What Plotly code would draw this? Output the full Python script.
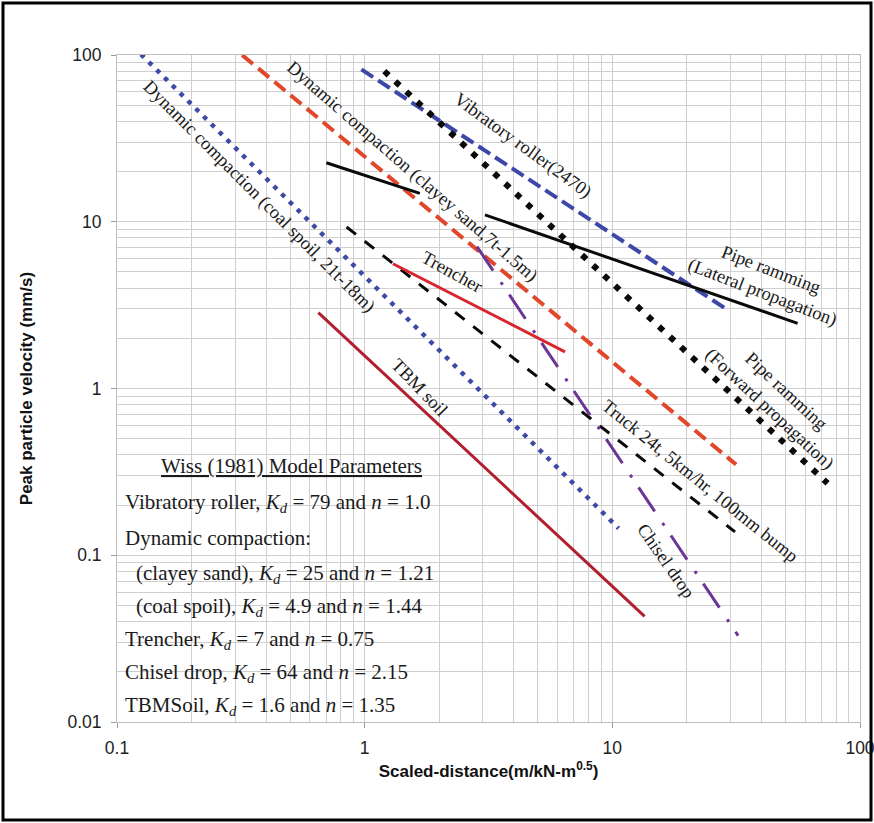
import math
import plotly.graph_objects as go

# ---------------- data ----------------
series_names = [
    "Dynamic compaction (coal spoil, 21t-18m)",
    "Dynamic compaction (clayey sand,7t-1.5m)",
    "Vibratory roller(2470)",
    "Pipe ramming (Forward propagation)",
    "Pipe ramming (Lateral propagation)",
    "Black solid (unlabelled)",
    "Truck 24t, 5km/hr, 100mm bump",
    "Trencher",
    "Chisel drop",
    "TBM soil",
]
x_start = [0.125, 0.32, 0.97, 1.20, 3.06, 0.70, 0.845, 1.30, 2.84, 0.65]
x_end = [10.6, 31.6, 29.3, 74.0, 56.0, 1.67, 31.3, 6.44, 32.2, 13.5]
y_start = [101.0, 100.0, 82.0, 80.0, 11.0, 22.6, 9.3, 5.6, 7.1, 2.85]
y_end = [0.145, 0.35, 2.95, 0.27, 2.46, 14.8, 0.138, 1.66, 0.033, 0.043]

x_tick_vals = [0.1, 1, 10, 100]
x_tick_text = ["0.1", "1", "10", "100"]
y_tick_vals = [0.01, 0.1, 1, 10, 100]
y_tick_text = ["0.01", "0.1", "1", "10", "100"]

legend_title = "Wiss (1981) Model Parameters"
legend_lines = [
    "Vibratory roller, <i>K</i><sub><i>d</i></sub> = 79 and <i>n</i> = 1.0",
    "Dynamic compaction:",
    "  (clayey sand), <i>K</i><sub><i>d</i></sub> = 25 and <i>n</i> = 1.21",
    "  (coal spoil), <i>K</i><sub><i>d</i></sub> = 4.9 and <i>n</i> = 1.44",
    "Trencher, <i>K</i><sub><i>d</i></sub> = 7 and <i>n</i> = 0.75",
    "Chisel drop, <i>K</i><sub><i>d</i></sub> = 64 and <i>n</i> = 2.15",
    "TBMSoil, <i>K</i><sub><i>d</i></sub> = 1.6 and <i>n</i> = 1.35",
]

# ---------------- styles ----------------
line_styles = [
    dict(color="#3d4aa6", width=4.5, dash="4.5px,6.5px"),
    dict(color="#e2462b", width=4, dash="14px,7px"),
    dict(color="#3c47a8", width=4, dash="14px,6px"),
    dict(color="#0a0a0a", width=6, dash="6px,9px"),
    dict(color="#0a0a0a", width=3),
    dict(color="#0a0a0a", width=3),
    dict(color="#0a0a0a", width=3, dash="12px,11px"),
    dict(color="#d8262c", width=3),
    dict(color="#6b3596", width=3, dash="29px,14px,3px,12px"),
    dict(color="#b21f2f", width=3),
]

W, H = 874, 823
L, R, T, B = 117, 14, 55, 101
PW, PH = W - L - R, H - T - B
SERIF = "Liberation Serif, Times New Roman, serif"
SANS = "Liberation Sans, Arial, sans-serif"


def px2paper(x, y):
    return (x - L) / PW, 1 - (y - T) / PH


fig = go.Figure()
for i, name in enumerate(series_names):
    fig.add_trace(go.Scatter(
        x=[x_start[i], x_end[i]], y=[y_start[i], y_end[i]],
        mode="lines", name=name, line=line_styles[i], showlegend=False,
    ))

# ---------------- rotated line labels ----------------
labels = [
    # text, cx, cy (px), angle, bg width, bg height
    ("Dynamic compaction (coal spoil, 21t-18m)", 259, 196, 45, 338, 22),
    ("Dynamic compaction (clayey sand,7t-1.5m)", 412, 171, 41, 336, 22),
    ("Vibratory roller(2470)", 522, 146, 36, 172, 22),
    ("Pipe ramming<br>(Lateral propagation)", 767, 281, 21, 164, 44),
    ("Pipe ramming<br>(Forward propagation)", 778, 400, 43, 170, 44),
    ("Trencher", 452, 272, 29, 68, 22),
    ("Truck 24t, 5km/hr, 100mm bump", 700, 481, 39, 254, 22),
    ("Chisel drop", 666, 561, 55, 88, 22),
    ("TBM soil", 419, 387, 46, 68, 22),
]

shapes = []
annotations = []
for text, cx, cy, ang, w, h in labels:
    th = math.radians(ang)
    c, s = math.cos(th), math.sin(th)
    pts = []
    for dx, dy in [(-w / 2, -h / 2), (w / 2, -h / 2), (w / 2, h / 2), (-w / 2, h / 2)]:
        X = cx + dx * c - dy * s
        Y = cy + dx * s + dy * c
        px, py = px2paper(X, Y)
        pts.append(f"{px:.5f},{py:.5f}")
    shapes.append(dict(type="path", xref="paper", yref="paper",
                       path="M" + " L".join(pts) + " Z",
                       fillcolor="white", line=dict(width=0), layer="between"))
    ax, ay = px2paper(cx, cy)
    annotations.append(dict(
        x=ax, y=ay, xref="paper", yref="paper", text=text, showarrow=False,
        textangle=ang, xanchor="center", yanchor="middle",
        font=dict(family=SERIF, size=18.5, color="#1a1a1a"),
    ))

# ---------------- model parameter box ----------------
bx0, by0 = px2paper(117, 447)
bx1, by1 = px2paper(452, 722)
shapes.append(dict(type="rect", xref="paper", yref="paper", x0=bx0, y0=by1, x1=bx1, y1=by0,
                   fillcolor="white", line=dict(width=0), layer="between"))

tx, ty = px2paper(291, 466)
annotations.append(dict(x=tx, y=ty, xref="paper", yref="paper", text="<u>" + legend_title + "</u>",
                        showarrow=False, xanchor="center", yanchor="middle",
                        font=dict(family=SERIF, size=21, color="#1a1a1a")))
line_y = [503, 538, 574, 607, 640, 673, 706]
for txt, yy in zip(legend_lines, line_y):
    indent = txt.startswith("  ")
    lx, ly = px2paper(134 if indent else 123, yy)
    annotations.append(dict(x=lx, y=ly, xref="paper", yref="paper", text=txt.strip(),
                            showarrow=False, xanchor="left", yanchor="middle",
                            font=dict(family=SERIF, size=21, color="#1a1a1a")))

# outer black frame
fx0, fy0 = px2paper(3, 3)
fx1, fy1 = px2paper(871, 820)
shapes.append(dict(type="rect", xref="paper", yref="paper", x0=fx0, y0=fy1, x1=fx1, y1=fy0,
                   line=dict(color="black", width=3), fillcolor="rgba(0,0,0,0)", layer="above"))

grid = "#cfcfcf"
axis_common = dict(
    type="log", showline=True, linecolor="#bdbdbd", linewidth=1, mirror=True,
    showgrid=True, gridcolor=grid, gridwidth=1,
    ticks="outside", ticklen=5, tickcolor="#9a9a9a",
    minor=dict(dtick="D1", showgrid=True, gridcolor=grid, gridwidth=1, ticks=""),
    tickfont=dict(family=SANS, size=17.5, color="#222"),
    zeroline=False,
)

fig.update_layout(
    width=W, height=H,
    margin=dict(l=L, r=R, t=T, b=B),
    paper_bgcolor="white", plot_bgcolor="white",
    xaxis=dict(axis_common, range=[-1, 2], tickvals=x_tick_vals, ticktext=x_tick_text,
               ticklabelstandoff=5, ticklabeloverflow="allow",
               title=dict(text="<b>Scaled-distance(m/kN-m<sup>0.5</sup>)</b>", standoff=8,
                          font=dict(family=SANS, size=17, color="#111")),
               automargin=False),
    yaxis=dict(axis_common, range=[-2, 2], tickvals=y_tick_vals, ticktext=y_tick_text,
               ticklabelstandoff=6, ticklabeloverflow="allow",
               title=dict(text="<b>Peak particle velocity (mm/s)</b>", standoff=30,
                          font=dict(family=SANS, size=17, color="#111")),
               automargin=False),
    shapes=shapes,
    annotations=annotations,
)

fig.write_html("out.html", config={"displayModeBar": False},
               post_script="document.body.style.margin='0px';")
